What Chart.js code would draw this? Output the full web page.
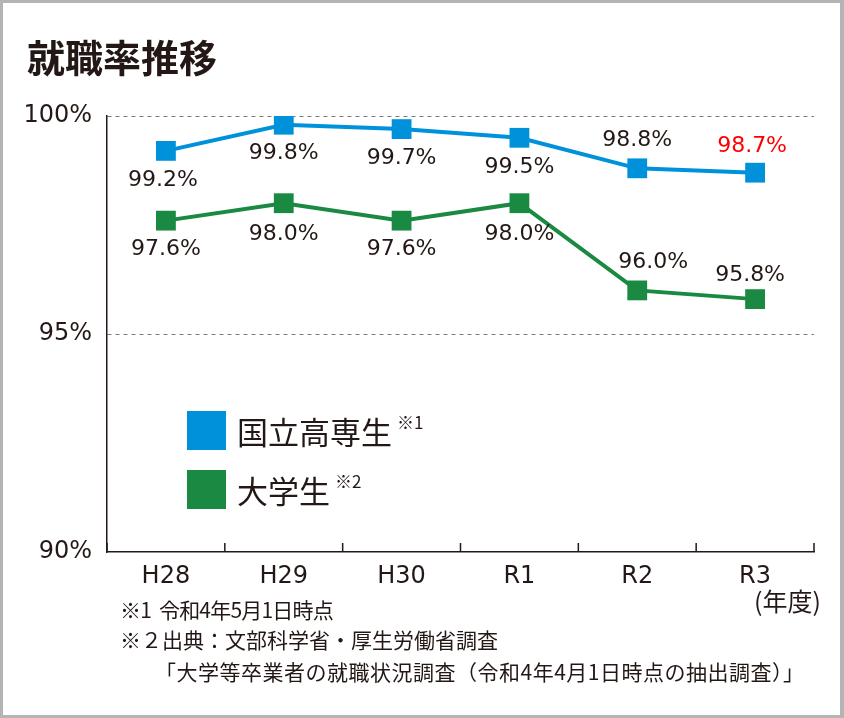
<!DOCTYPE html>
<html lang="ja">
<head>
<meta charset="utf-8">
<script src="https://cdn.jsdelivr.net/npm/chart.js@4.4.0/dist/chart.umd.min.js"></script>
<style>
  html, body { margin: 0; padding: 0; background: #fff; }
  body { width: 844px; height: 718px; position: relative; overflow: hidden;
         font-family: "Noto Sans CJK JP", "Noto Sans", sans-serif; color: #231815; }
  #frame { position: absolute; left: 0; top: 0; width: 844px; height: 718px;
           box-sizing: border-box; border: 3px solid #b4b4b4; border-right-width: 4px; pointer-events: none; }
  #title { position: absolute; left: 27px; top: 37px; font-size: 38px; font-weight: 700; line-height: 1; }
  #chartBox { position: absolute; left: 0; top: 0; width: 844px; height: 718px; }
  .legend { position: absolute; left: 187px; display: flex; align-items: center; font-size: 31px; line-height: 1; }
  .legend .sw { width: 39px; height: 39px; margin-right: 11px; }
  .legend sup { font-size: 17px; position: relative; top: -9px; margin-left: 5px; vertical-align: baseline; }
  .note { position: absolute; font-size: 21px; line-height: 1; white-space: nowrap; }
  #unit { position: absolute; left: 754px; top: 588px; font-size: 25px; line-height: 1; }
</style>
</head>
<body>
<div id="chartBox"><canvas id="c" width="844" height="718"></canvas></div>
<div id="title">就職率推移</div>
<div class="legend" id="lg1" style="top:411px;"><div class="sw" style="background:#0091DB"></div><span>国立高専生</span><sup>※1</sup></div>
<div class="legend" id="lg2" style="top:470px;"><div class="sw" style="background:#1A8942"></div><span>大学生</span><sup>※2</sup></div>
<div id="unit">(年度)</div>
<div class="note" style="left:120px; top:599px; letter-spacing:-0.8px; word-spacing:4px;">※1 令和4年5月1日時点</div>
<div class="note" style="left:120px; top:629px;">※２出典：文部科学省・厚生労働省調査</div>
<div class="note" style="left:155px; top:661px; letter-spacing:0.5px;">「大学等卒業者の就職状況調査（令和4年4月1日時点の抽出調査）」</div>
<div id="frame"></div>
<script>
// ---- data ----
const categories = ['H28', 'H29', 'H30', 'R1', 'R2', 'R3'];
const kosenValues = [99.2, 99.8, 99.7, 99.5, 98.8, 98.7];
const daigakuValues = [97.6, 98.0, 97.6, 98.0, 96.0, 95.8];
const seriesNames = ['国立高専生', '大学生'];
const yTickValues = [90, 95, 100];

// ---- label placement / styling (not data) ----
const labelPlacement = [
  ['below', 'below', 'below', 'below', 'above', 'above'],
  ['below', 'below', 'below', 'below', 'above', 'above']
];
const labelShiftX = [
  [-3, 0, 0, 0, 0, -3],
  [0, 0, 0, 0, 16, -5]
];
const labelShiftY = [
  [0, 0, 0, 0, 0, 2],
  [0, 2, 0, 2, 0, 4]
];
const highlightLabel = { dataset: 0, index: 5, color: '#FF0000' };

const TEXT = '#231815';
const BLUE = '#0091DB';
const GREEN = '#1A8942';
const NUMFONT = '"DejaVu Sans", "Noto Sans CJK JP", sans-serif';

const valueLabels = {
  id: 'valueLabels',
  afterDatasetsDraw(chart) {
    const ctx = chart.ctx;
    ctx.save();
    ctx.font = '22px ' + NUMFONT;
    ctx.textAlign = 'center';
    ctx.textBaseline = 'middle';
    chart.data.datasets.forEach((ds, di) => {
      const meta = chart.getDatasetMeta(di);
      meta.data.forEach((pt, i) => {
        const txt = ds.data[i].toFixed(1) + '%';
        const dy = (labelPlacement[di][i] === 'above' ? -28 : 29) + labelShiftY[di][i];
        ctx.fillStyle = (highlightLabel.dataset === di && highlightLabel.index === i) ? highlightLabel.color : TEXT;
        ctx.fillText(txt, pt.x + labelShiftX[di][i], pt.y + dy);
      });
    });
    ctx.restore();
  }
};

const innerTicks = {
  id: 'innerTicks',
  afterDraw(chart) {
    const xs = chart.scales.x;
    const ctx = chart.ctx;
    const n = xs.ticks.length;
    const y = chart.chartArea.bottom;
    ctx.save();
    ctx.strokeStyle = TEXT;
    ctx.lineWidth = 1.5;
    ctx.beginPath();
    for (let i = 0; i <= n; i++) {
      let x;
      if (i === 0) x = chart.chartArea.left;
      else if (i === n) x = chart.chartArea.right;
      else x = (xs.getPixelForValue(i - 1) + xs.getPixelForValue(i)) / 2;
      ctx.moveTo(x, y);
      ctx.lineTo(x, y - 9);
    }
    ctx.stroke();
    ctx.restore();
  }
};

Chart.defaults.font.family = NUMFONT;
Chart.defaults.color = TEXT;

new Chart(document.getElementById('c'), {
  type: 'line',
  data: {
    labels: categories,
    datasets: [
      { label: seriesNames[0], data: kosenValues, borderColor: BLUE, backgroundColor: BLUE,
        borderWidth: 4, pointStyle: 'rect', pointRadius: 14, pointHoverRadius: 14, pointBorderWidth: 0, tension: 0 },
      { label: seriesNames[1], data: daigakuValues, borderColor: GREEN, backgroundColor: GREEN,
        borderWidth: 4, pointStyle: 'rect', pointRadius: 14, pointHoverRadius: 14, pointBorderWidth: 0, tension: 0 }
    ]
  },
  options: {
    responsive: false,
    animation: false,
    events: [],
    layout: { padding: { left: 0, top: 116, right: 30, bottom: 0 } },
    plugins: { legend: { display: false }, tooltip: { enabled: false } },
    scales: {
      x: {
        offset: true,
        grid: { display: false, drawTicks: false },
        border: { display: true, color: TEXT, width: 1.5 },
        ticks: { padding: 10, font: { size: 24 }, color: TEXT },
        afterFit(s) { s.height = 718 - 552; }
      },
      y: {
        min: 90, max: 100,
        afterBuildTicks(s) { s.ticks = yTickValues.map(v => ({ value: v })); },
        grid: {
          drawTicks: false,
          color: c => (c.tick && c.tick.value === 90) ? 'rgba(0,0,0,0)' : '#7a7a7a',
          lineWidth: 1
        },
        border: { display: true, color: TEXT, width: 1.5, dash: [4, 4] },
        ticks: { padding: 15, font: { size: 24 }, color: TEXT, callback: v => v + '%' },
        afterFit(s) { s.width = 107; }
      }
    }
  },
  plugins: [valueLabels, innerTicks]
});
</script>
</body>
</html>
